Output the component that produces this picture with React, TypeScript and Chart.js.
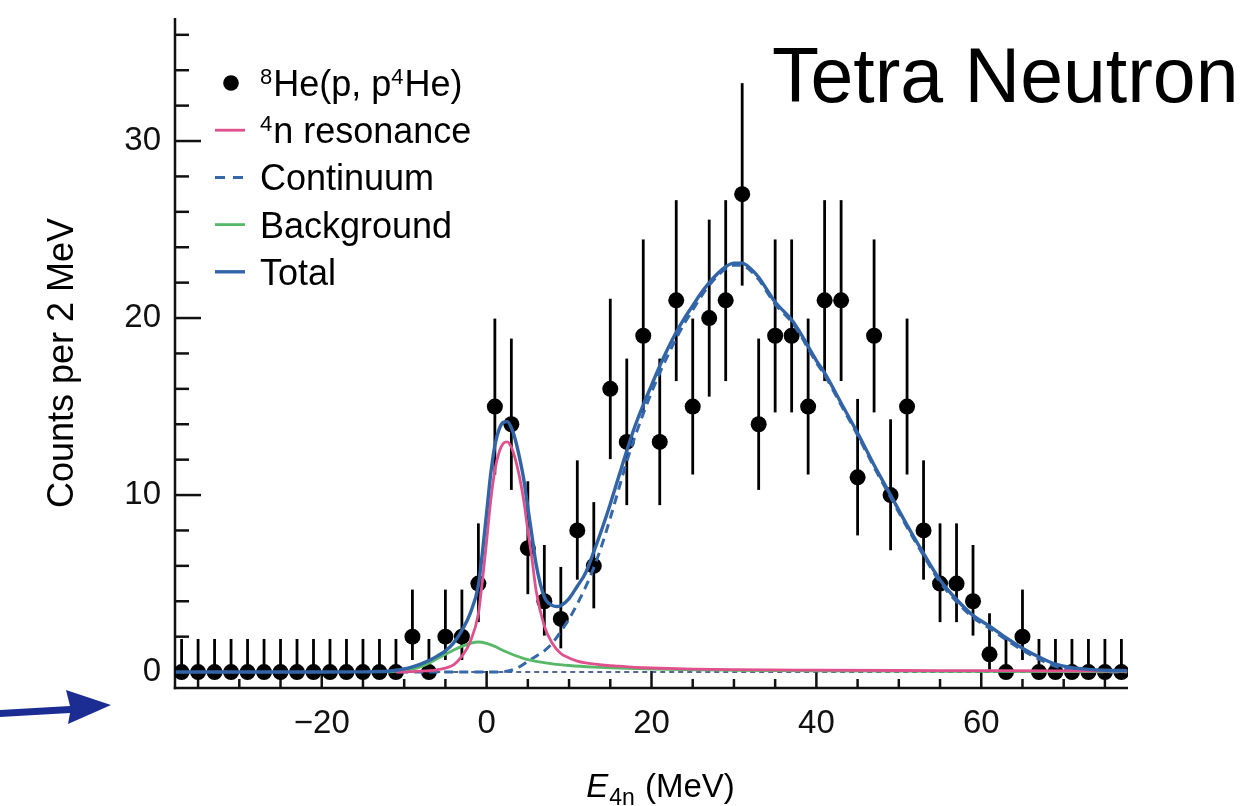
import React, { useEffect, useRef } from 'react';
import { Chart, registerables } from 'chart.js';

Chart.register(...registerables);

const FONT = '"Liberation Sans", Arial, Helvetica, sans-serif';

// ---- measured data: counts per 2 MeV bin ----
const BIN_X = [-37, -35, -33, -31, -29, -27, -25, -23, -21, -19, -17, -15, -13, -11, -9, -7, -5, -3, -1,
  1, 3, 5, 7, 9, 11, 13, 15, 17, 19, 21, 23, 25, 27, 29, 31, 33, 35, 37, 39, 41, 43, 45, 47, 49, 51, 53, 55, 57, 59, 61, 63, 65, 67, 69, 71, 73, 75, 77];
const COUNTS = [0, 0, 0, 0, 0, 0, 0, 0, 0, 0, 0, 0, 0, 0, 2, 0, 2, 2, 5,
  15, 14, 7, 4, 3, 8, 6, 16, 13, 19, 13, 21, 15, 20, 21, 27, 14, 19, 19, 15, 21, 21, 11, 19, 10, 15, 8, 5, 5, 4, 1, 0, 2, 0, 0, 0, 0, 0, 0];
const ERR_UP = [1.87, 1.87, 1.87, 1.87, 1.87, 1.87, 1.87, 1.87, 1.87, 1.87, 1.87, 1.87, 1.87, 1.87, 2.66, 1.87, 2.66, 2.66, 3.4,
  4.97, 4.84, 3.78, 3.18, 2.94, 3.96, 3.6, 5.09, 4.71, 5.44, 4.71, 5.66, 4.97, 5.56, 5.66, 6.27, 4.84, 5.44, 5.44, 4.97, 5.66, 5.66, 4.43, 5.44, 4.28, 4.97, 3.96, 3.4, 3.4, 3.18, 2.32, 1.87, 2.66, 1.87, 1.87, 1.87, 1.87, 1.87, 1.87];
const ERR_DOWN = [0, 0, 0, 0, 0, 0, 0, 0, 0, 0, 0, 0, 0, 0, 1.32, 0, 1.32, 1.32, 2.18,
  3.84, 3.71, 2.6, 1.94, 1.66, 2.78, 2.4, 3.97, 3.57, 4.33, 3.57, 4.56, 3.84, 4.44, 4.56, 5.17, 3.71, 4.33, 4.33, 3.84, 4.56, 4.56, 3.28, 4.33, 3.12, 3.84, 2.78, 2.18, 2.18, 1.94, 0.87, 0, 1.32, 0, 0, 0, 0, 0, 0];

// ---- fit curves ----
const RES_X = [-11, -10, -9, -8, -7, -6, -5, -4, -3, -2, -1, -0.5, 0, 0.5, 1, 1.5, 2, 2.5, 3, 3.5, 4, 4.5, 5, 5.5, 6, 7, 8, 9, 10, 11, 12, 14, 16, 18, 20, 25, 30, 40, 50, 60, 70, 77.7];
const RES_Y = [0, 0.01, 0.03, 0.05, 0.08, 0.13, 0.22, 0.4, 0.9, 1.7, 3.3, 5.2, 7.4, 9.7, 11.4, 12.4, 12.9, 13.0, 12.7, 12.0, 11.0, 9.7, 8.0, 6.4, 4.6, 2.6, 1.6, 1.05, 0.8, 0.62, 0.52, 0.4, 0.33, 0.27, 0.23, 0.17, 0.14, 0.11, 0.09, 0.08, 0.07, 0.06];

const CONT_X = [-10.6, -5, 0, 2, 3, 4, 5, 6, 7, 8, 9, 10, 11, 12, 13, 14, 15, 16, 17, 18,
  19, 20, 21, 22, 23, 24, 25, 26, 27, 28, 29, 30, 31, 32, 33, 34, 35, 36, 37, 38,
  39, 40, 41, 43, 45, 47, 49, 51, 53, 55, 57, 59, 61, 63, 65, 67, 69, 71, 73, 75, 77.7];
const CONT_Y = [0, 0, 0, 0.02, 0.1, 0.3, 0.6, 0.9, 1.2, 1.65, 2.3, 3.0, 3.85, 4.8, 5.9, 7.2, 8.7, 10.3, 11.9, 13.3,
  14.6, 15.8, 16.9, 17.9, 18.85, 19.7, 20.45, 21.2, 21.85, 22.38, 22.78, 22.98, 22.98, 22.68, 22.18, 21.48, 20.78, 20.28, 19.78, 19.08,
  18.28, 17.48, 16.78, 15.08, 13.38, 11.58, 9.88, 8.18, 6.58, 5.08, 3.98, 3.08, 2.48, 1.83, 1.23, 0.73, 0.33, 0.13, 0.05, 0, 0];

const BG_X = [-12, -10, -9, -8, -7, -6, -5, -4, -3, -2, -1, 0, 1, 2, 3, 4, 5, 6, 8, 10, 13, 16, 20, 25, 30, 40, 50, 60, 77.7];
const BG_Y = [0, 0.08, 0.16, 0.3, 0.5, 0.75, 1.0, 1.25, 1.45, 1.62, 1.7, 1.62, 1.45, 1.22, 1.02, 0.85, 0.7, 0.6, 0.46, 0.37, 0.28, 0.22, 0.17, 0.12, 0.1, 0.07, 0.05, 0.04, 0.03];

const TOTAL_X = [-37.7, -30, -20, -15, -13, -12, -11, -10, -9, -8, -7, -6, -5, -4, -3, -2, -1, -0.5, 0, 0.5,
  1, 1.5, 2, 2.5, 3, 3.5, 4, 4.5, 5, 5.5, 6, 7, 8, 8.5, 9, 10, 11, 12, 13, 14,
  15, 16, 17, 18, 19, 20, 21, 22, 23, 24, 25, 26, 27, 28, 29, 30, 31, 32, 33, 34,
  35, 36, 37, 38, 39, 40, 41, 43, 45, 47, 49, 51, 53, 55, 57, 59, 61, 63, 65, 67, 69, 71, 73, 75, 77.7];
const TOTAL_Y = [0, 0, 0, 0.01, 0.03, 0.05, 0.1, 0.18, 0.3, 0.45, 0.65, 0.9, 1.2, 1.65, 2.35, 3.3, 4.9, 6.8, 9.0, 11.2,
  12.8, 13.7, 14.1, 14.15, 13.8, 13.1, 12.1, 10.9, 9.3, 7.7, 6.1, 4.25, 3.75, 3.7, 3.75, 4.15, 4.85, 5.6, 6.8, 8.1,
  9.5, 11.0, 12.5, 13.9, 15.1, 16.2, 17.3, 18.3, 19.2, 20.0, 20.7, 21.4, 22.0, 22.5, 22.9, 23.1, 23.1, 22.8, 22.3, 21.6,
  20.9, 20.4, 19.9, 19.2, 18.4, 17.6, 16.9, 15.2, 13.5, 11.7, 10.0, 8.3, 6.7, 5.2, 4.1, 3.2, 2.6, 1.95, 1.35, 0.85, 0.45, 0.25, 0.15, 0.1, 0.08];

const ZERO_X = [-10.6, 77.7];
const ZERO_Y = [0, 0];

// ---- axes ----
const X_MIN = -37.8;
const X_MAX = 77.8;
const Y_MIN = -0.9;
const Y_MAX = 36.95;
const X_MAJOR = [-20, 0, 20, 40, 60];
const X_LABELS = ['\u221220', '0', '20', '40', '60'];
const X_MINOR = [-35, -30, -25, -15, -10, -5, 5, 10, 15, 25, 30, 35, 45, 50, 55, 65, 70, 75];
const Y_MAJOR = [0, 10, 20, 30];
const Y_LABELS = ['0', '10', '20', '30'];
const Y_MINOR = [2, 4, 6, 8, 12, 14, 16, 18, 22, 24, 26, 28, 32, 34, 36];

const Y_TITLE = 'Counts per 2 MeV';
const X_TITLE_VAR = 'E';
const X_TITLE_SUB = '4n';
const X_TITLE_UNIT = ' (MeV)';
const HEADLINE = 'Tetra Neutron';

const LABEL_DATA = '\u2078He(p, p\u2074He)';
const LABEL_RES = '\u2074n resonance';
const LABEL_CONT = 'Continuum';
const LABEL_BG = 'Background';
const LABEL_TOTAL = 'Total';

const C_TOTAL = '#3265a8';
const C_RES = '#e0508c';
const C_BG = '#57b968';
const C_CONT = '#3468ab';
const C_ZERO = '#1f3470';
const C_AXIS = '#111111';
const C_ARROW = '#1b2d93';

const SUP: Record<string, string> = { '\u2070': '0', '\u00b9': '1', '\u00b2': '2', '\u00b3': '3', '\u2074': '4', '\u2075': '5', '\u2076': '6', '\u2077': '7', '\u2078': '8', '\u2079': '9' };

function drawRich(ctx: CanvasRenderingContext2D, text: string, x: number, baseline: number, size: number) {
  let cx = x;
  let buf = '';
  const flush = () => {
    if (!buf) return;
    ctx.font = `${size}px ${FONT}`;
    ctx.fillText(buf, cx, baseline);
    cx += ctx.measureText(buf).width;
    buf = '';
  };
  for (const ch of text) {
    if (SUP[ch]) {
      flush();
      const s = Math.round(size * 0.62);
      ctx.font = `${s}px ${FONT}`;
      ctx.fillText(SUP[ch], cx, baseline - size * 0.34);
      cx += ctx.measureText(SUP[ch]).width + 1;
    } else {
      buf += ch;
    }
  }
  flush();
}

const pts = (xs: number[], ys: number[]) => xs.map((x, i) => ({ x, y: ys[i] }));

const decor = {
  id: 'decor',
  beforeDatasetsDraw(chart: any) {
    const { ctx, chartArea, scales } = chart;
    const xs = scales.x;
    const ys = scales.y;
    ctx.save();
    ctx.strokeStyle = C_AXIS;
    ctx.lineWidth = 2.5;
    ctx.lineCap = 'butt';
    const line = (x1: number, y1: number, x2: number, y2: number) => {
      ctx.beginPath();
      ctx.moveTo(x1, y1);
      ctx.lineTo(x2, y2);
      ctx.stroke();
    };
    // axis lines
    line(chartArea.left, chartArea.top, chartArea.left, chartArea.bottom + 1.25);
    line(chartArea.left - 1.25, chartArea.bottom, chartArea.right, chartArea.bottom);
    // inward ticks
    Y_MAJOR.forEach((v) => { const p = ys.getPixelForValue(v); line(chartArea.left, p, chartArea.left + 26, p); });
    Y_MINOR.forEach((v) => { const p = ys.getPixelForValue(v); line(chartArea.left, p, chartArea.left + 14, p); });
    X_MAJOR.forEach((v) => { const p = xs.getPixelForValue(v); line(p, chartArea.bottom, p, chartArea.bottom - 17); });
    X_MINOR.forEach((v) => { const p = xs.getPixelForValue(v); line(p, chartArea.bottom, p, chartArea.bottom - 9); });
    // error bars
    ctx.strokeStyle = '#000';
    ctx.lineWidth = 2.8;
    BIN_X.forEach((bx, i) => {
      const px = xs.getPixelForValue(bx);
      line(px, ys.getPixelForValue(COUNTS[i] - ERR_DOWN[i]), px, ys.getPixelForValue(COUNTS[i] + ERR_UP[i]));
    });
    ctx.restore();
  },
  afterDraw(chart: any) {
    const { ctx, chartArea } = chart;
    ctx.save();
    ctx.fillStyle = '#000';
    ctx.textAlign = 'left';
    ctx.textBaseline = 'alphabetic';

    // legend
    const ds = chart.data.datasets;
    const legendOrder = [0, 1, 2, 3, 4];
    legendOrder.forEach((di, row) => {
      const d = ds[di];
      const cy = 83 + 47.2 * row;
      if (d.showLine === false) {
        ctx.fillStyle = '#000';
        ctx.beginPath();
        ctx.arc(231, cy, 7.8, 0, Math.PI * 2);
        ctx.fill();
      } else {
        ctx.strokeStyle = d.borderColor;
        ctx.lineWidth = d.borderWidth;
        ctx.setLineDash(d.borderDash ? [10, 8] : []);
        ctx.beginPath();
        ctx.moveTo(215, cy);
        ctx.lineTo(245, cy);
        ctx.stroke();
        ctx.setLineDash([]);
      }
      ctx.fillStyle = '#000';
      drawRich(ctx, d.label, 260, cy + 13, 36);
    });

    // y title
    ctx.save();
    ctx.translate(63, 363);
    ctx.rotate(-Math.PI / 2);
    ctx.textAlign = 'center';
    ctx.textBaseline = 'middle';
    ctx.font = `36px ${FONT}`;
    ctx.fillText(Y_TITLE, 0, 0);
    ctx.restore();

    // x title
    const base = 797;
    ctx.font = `italic 33px ${FONT}`;
    const wE = ctx.measureText(X_TITLE_VAR).width;
    ctx.font = `23px ${FONT}`;
    const wS = ctx.measureText(X_TITLE_SUB).width;
    ctx.font = `33px ${FONT}`;
    const wU = ctx.measureText(X_TITLE_UNIT).width;
    const cx = (chartArea.left + chartArea.right) / 2 + 9;
    let sx = cx - (wE + wS + 2 + wU) / 2;
    ctx.font = `italic 33px ${FONT}`;
    ctx.fillText(X_TITLE_VAR, sx, base);
    sx += wE + 1;
    ctx.font = `23px ${FONT}`;
    ctx.fillText(X_TITLE_SUB, sx, base + 8);
    sx += wS + 1;
    ctx.font = `33px ${FONT}`;
    ctx.fillText(X_TITLE_UNIT, sx, base);

    // headline
    ctx.font = `77px ${FONT}`;
    ctx.fillText(HEADLINE, 772, 102);

    // arrow
    ctx.fillStyle = C_ARROW;
    ctx.beginPath();
    ctx.moveTo(0, 710);
    ctx.lineTo(70, 706);
    ctx.lineTo(66, 690);
    ctx.lineTo(111, 705);
    ctx.lineTo(68, 724);
    ctx.lineTo(70, 713);
    ctx.lineTo(0, 717);
    ctx.closePath();
    ctx.fill();
    ctx.restore();
  },
};

export default function App() {
  const ref = useRef<HTMLCanvasElement>(null);
  useEffect(() => {
    const canvas = ref.current;
    if (!canvas) return;
    const chart = new Chart(canvas, {
      type: 'scatter',
      data: {
        datasets: [
          {
            label: LABEL_DATA,
            data: pts(BIN_X, COUNTS),
            showLine: false,
            pointRadius: 8,
            pointBackgroundColor: '#000',
            pointBorderWidth: 0,
            order: 5,
          } as any,
          {
            label: LABEL_RES,
            data: pts(RES_X, RES_Y),
            showLine: true,
            borderColor: C_RES,
            borderWidth: 2.8,
            pointRadius: 0,
            cubicInterpolationMode: 'monotone',
            order: 1,
          },
          {
            label: LABEL_CONT,
            data: pts(CONT_X, CONT_Y),
            showLine: true,
            borderColor: C_CONT,
            borderWidth: 3,
            borderDash: [9, 6],
            pointRadius: 0,
            cubicInterpolationMode: 'monotone',
            order: 3,
          },
          {
            label: LABEL_BG,
            data: pts(BG_X, BG_Y),
            showLine: true,
            borderColor: C_BG,
            borderWidth: 2.8,
            pointRadius: 0,
            cubicInterpolationMode: 'monotone',
            order: 2,
          },
          {
            label: LABEL_TOTAL,
            data: pts(TOTAL_X, TOTAL_Y),
            showLine: true,
            borderColor: C_TOTAL,
            borderWidth: 3.4,
            pointRadius: 0,
            cubicInterpolationMode: 'monotone',
            order: 0,
          },
          {
            label: 'zero',
            data: pts(ZERO_X, ZERO_Y),
            showLine: true,
            borderColor: C_ZERO,
            borderWidth: 1.5,
            borderDash: [5, 4],
            pointRadius: 0,
            order: 4,
          },
        ],
      },
      options: {
        animation: false,
        responsive: true,
        maintainAspectRatio: false,
        events: [],
        layout: { padding: { top: 18, right: 127, left: 0, bottom: 0 } },
        plugins: { legend: { display: false }, tooltip: { enabled: false } },
        scales: {
          x: {
            type: 'linear',
            min: X_MIN,
            max: X_MAX,
            afterBuildTicks: (s: any) => { s.ticks = X_MAJOR.map((v) => ({ value: v })); },
            afterFit: (s: any) => { s.height = 118; s.paddingLeft = 0; s.paddingRight = 0; },
            grid: { display: false, drawTicks: false },
            border: { display: false },
            ticks: {
              autoSkip: false,
              maxRotation: 0,
              padding: 16,
              color: '#111',
              font: { family: FONT, size: 33 },
              callback: (v: any) => { const i = X_MAJOR.indexOf(Number(v)); return i >= 0 ? X_LABELS[i] : ''; },
            },
          },
          y: {
            type: 'linear',
            min: Y_MIN,
            max: Y_MAX,
            afterBuildTicks: (s: any) => { s.ticks = Y_MAJOR.map((v) => ({ value: v })); },
            afterFit: (s: any) => { s.width = 175; s.paddingTop = 0; s.paddingBottom = 0; },
            grid: { display: false, drawTicks: false },
            border: { display: false },
            ticks: {
              autoSkip: false,
              padding: 14,
              color: '#111',
              font: { family: FONT, size: 33 },
              callback: (v: any) => { const i = Y_MAJOR.indexOf(Number(v)); return i >= 0 ? Y_LABELS[i] : ''; },
            },
          },
        },
      } as any,
      plugins: [decor],
    });
    return () => chart.destroy();
  }, []);
  return (
    <div style={{ position: 'fixed', left: 0, top: 0, width: '1255px', height: '806px', background: '#fff' }}>
      <canvas ref={ref} />
    </div>
  );
}
